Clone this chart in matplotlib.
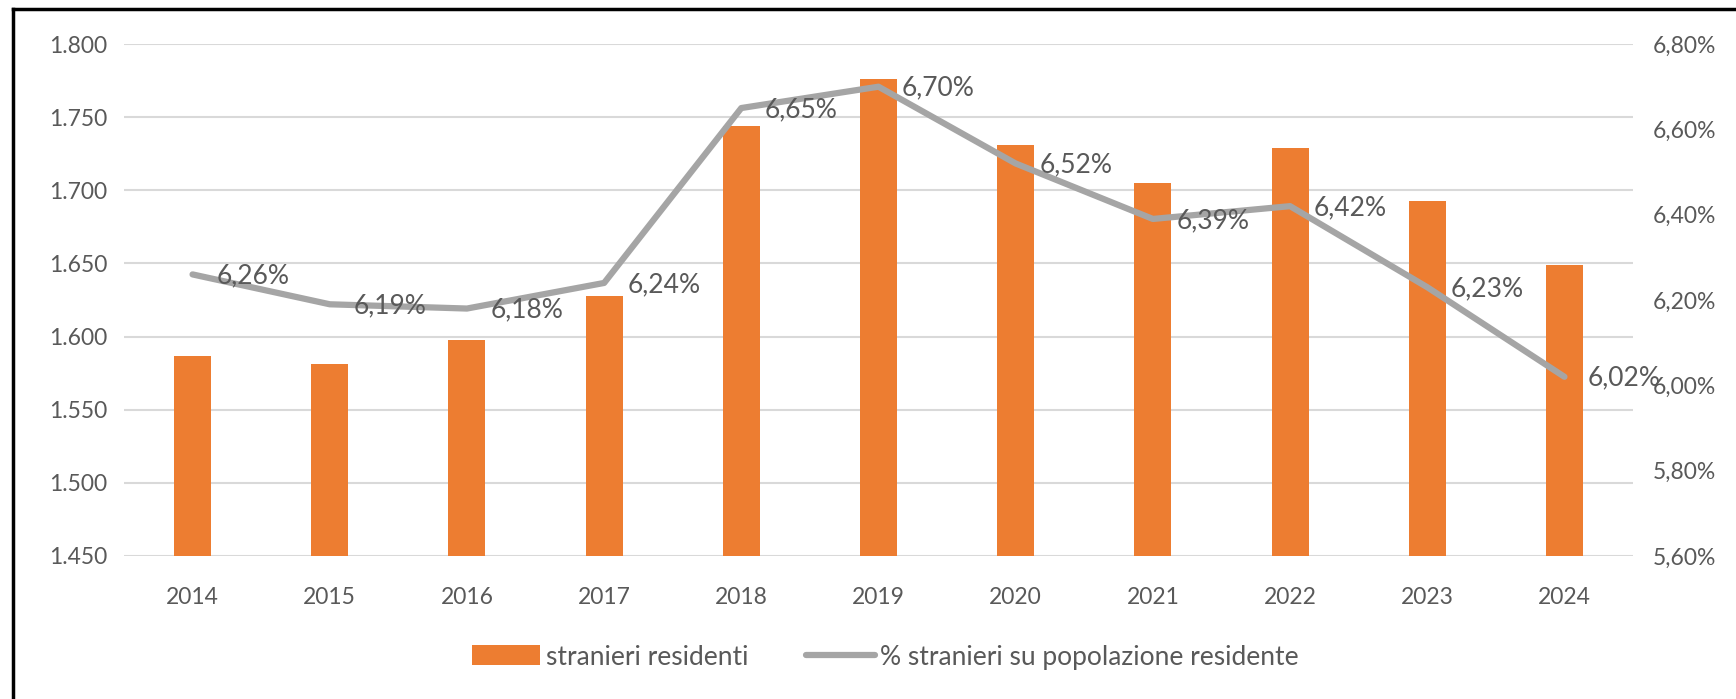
import matplotlib
matplotlib.use("Agg")
import matplotlib.pyplot as plt
from matplotlib.lines import Line2D
from matplotlib.patches import Patch

# data
anni = ["2014", "2015", "2016", "2017", "2018", "2019", "2020", "2021", "2022", "2023", "2024"]
stranieri = [1.587, 1.581, 1.598, 1.628, 1.744, 1.776, 1.731, 1.705, 1.729, 1.693, 1.649]
perc = [6.26, 6.19, 6.18, 6.24, 6.65, 6.70, 6.52, 6.39, 6.42, 6.23, 6.02]

left_ticks = [1.450, 1.500, 1.550, 1.600, 1.650, 1.700, 1.750, 1.800]
right_ticks = [5.60, 5.80, 6.00, 6.20, 6.40, 6.60, 6.80]

ORANGE = "#ED7D31"
GREY_LINE = "#A5A5A5"
TXT = "#595959"
GRID = "#D9D9D9"

plt.rcParams["font.family"] = ["Lato", "DejaVu Sans"]

fig = plt.figure(figsize=(17.36, 6.99), dpi=100)
ax = fig.add_axes([0.0714, 0.2046, 0.8693, 0.7324])
ax2 = ax.twinx()

x = list(range(len(anni)))
ax.bar(x, stranieri, width=0.27, color=ORANGE, zorder=2)
ax.set_ylim(1.450, 1.800)
ax.set_xlim(-0.5, len(anni) - 0.5)
ax.set_yticks(left_ticks)
ax.set_yticklabels([f"{v:.3f}" for v in left_ticks])
ax.set_xticks(x)
ax.set_xticklabels(anni)
ax.grid(axis="y", color=GRID, linewidth=1.5, zorder=0)
ax.set_axisbelow(True)
ax.tick_params(axis="both", length=0, labelsize=16.5, colors=TXT)
ax.tick_params(axis="x", pad=22)
ax.tick_params(axis="y", pad=12)

ax2.plot(x, perc, color=GREY_LINE, linewidth=4.5, solid_capstyle="round",
         solid_joinstyle="round", zorder=3)
ax2.set_ylim(5.60, 6.80)
ax2.set_yticks(right_ticks)
ax2.set_yticklabels([f"{v:.2f}%".replace(".", ",") for v in right_ticks])
ax2.tick_params(axis="y", length=0, labelsize=16.5, colors=TXT, pad=14)

for a in (ax, ax2):
    for s in a.spines.values():
        s.set_visible(False)

for xi, p in zip(x, perc):
    ax2.annotate(f"{p:.2f}%".replace(".", ","), (xi, p), xytext=(17, -1),
                 textcoords="offset points", ha="left", va="center",
                 fontsize=19, color=TXT, zorder=4)

handles = [Patch(facecolor=ORANGE, edgecolor="none"),
           Line2D([0], [0], color=GREY_LINE, linewidth=4.5, solid_capstyle="round")]
fig.legend(handles, ["stranieri residenti", "% stranieri su popolazione residente"],
           loc="center", bbox_to_anchor=(0.51, 0.06), ncol=2, frameon=False,
           fontsize=19, labelcolor=TXT, handlelength=2.6, handleheight=0.8,
           handletextpad=0.2, columnspacing=2.2)

# outer frame (left and top edges visible)
fig.add_artist(Line2D([0.0075, 0.0075], [0, 0.987], color="black", linewidth=2.5,
                      transform=fig.transFigure))
fig.add_artist(Line2D([0.0075, 1.0], [0.987, 0.987], color="black", linewidth=2.5,
                      transform=fig.transFigure))

fig.savefig("out.png", dpi=100)
